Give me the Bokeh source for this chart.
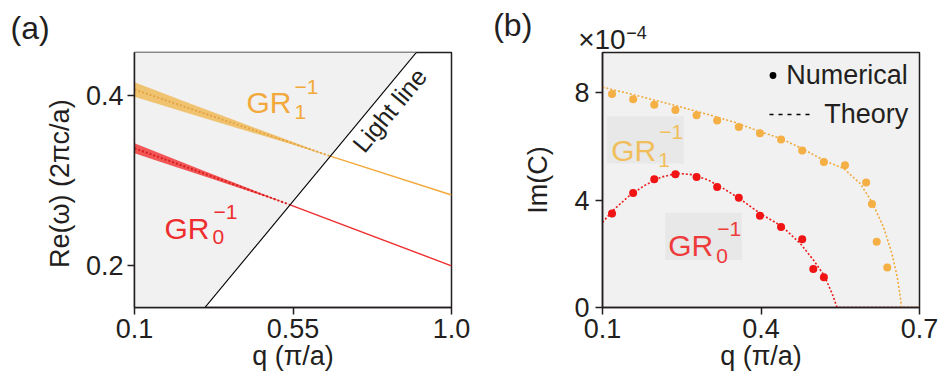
from bokeh.plotting import figure
from bokeh.layouts import row
from bokeh.models import Label, Legend, LegendItem, BoxAnnotation, FixedTicker, Range1d, Title
from bokeh.embed import file_html
from bokeh.resources import INLINE
import numpy as np

FONT = "Liberation Sans"
INK = "#231F20"
ORANGE = "#F2A93B"
ORANGE_BAND = "#F0BE62"
ORANGE_DOT = "#E6A444"
RED = "#EE2E2E"
RED_BAND = "#F24646"
RED_DOT = "#D91C1C"
GRAY = "#F1F1F1"
BOXGRAY = "#E8E8E8"

# ---------------- panel (a) data ----------------
light_q = [0.3, 0.9]
light_re = [0.15, 0.45]

gr1_q = [0.10, 0.25, 0.40, 0.55, 0.656]
gr1_re = [0.4065, 0.385, 0.364, 0.343, 0.328]
gr1_hw = [0.0085, 0.0062, 0.0039, 0.0016, 0.0]
gr1_q_out = [0.656, 1.0]
gr1_re_out = [0.328, 0.2824]

gr0_q = [0.10, 0.20, 0.30, 0.40, 0.538]
gr0_re = [0.3373, 0.3223, 0.3072, 0.2922, 0.2714]
gr0_hw = [0.0059, 0.0046, 0.0032, 0.0019, 0.0]
gr0_q_out = [0.538, 1.0]
gr0_re_out = [0.2714, 0.199]

a_xticks = [0.1, 0.55, 1.0]
a_xlabels = ["0.1", "0.55", "1.0"]
a_yticks = [0.2, 0.4]
a_ylabels = ["0.2", "0.4"]

# ---------------- panel (b) data ----------------
gr1_num_q = [0.118, 0.158, 0.198, 0.238, 0.278, 0.317, 0.358, 0.398, 0.438,
             0.478, 0.519, 0.559, 0.599, 0.610, 0.619, 0.639]
gr1_num = [7.95, 7.76, 7.55, 7.36, 7.16, 6.97, 6.72, 6.49, 6.26,
           5.85, 5.42, 5.30, 4.66, 3.86, 2.45, 1.49]
gr0_num_q = [0.118, 0.158, 0.198, 0.238, 0.278, 0.317, 0.358, 0.398, 0.438,
             0.478, 0.499, 0.519]
gr0_num = [3.50, 4.27, 4.78, 4.96, 4.86, 4.49, 4.09, 3.42, 3.00, 2.54, 1.43, 1.13]

gr1_th_q = [0.10, 0.15, 0.20, 0.25, 0.30, 0.35, 0.40, 0.437, 0.478, 0.519, 0.557,
            0.588, 0.61, 0.632, 0.648, 0.658, 0.664, 0.666, 0.70]
gr1_th = [8.21, 7.97, 7.72, 7.46, 7.19, 6.90, 6.54, 6.30, 5.92, 5.48, 5.17,
          4.61, 3.93, 2.99, 2.00, 1.12, 0.35, 0.0, 0.0]
gr0_th_q = [0.10, 0.12, 0.15, 0.18, 0.21, 0.24, 0.27, 0.30, 0.33, 0.36, 0.40,
            0.44, 0.475, 0.50, 0.52, 0.535, 0.544, 0.70]
gr0_th = [3.17, 3.62, 4.15, 4.55, 4.85, 5.00, 4.95, 4.75, 4.42, 4.05, 3.48,
          3.02, 2.37, 1.75, 1.18, 0.50, 0.0, 0.0]

b_xticks = [0.1, 0.4, 0.7]
b_xlabels = ["0.1", "0.4", "0.7"]
b_yticks = [0, 4, 8]
b_ylabels = ["0", "4", "8"]


def style_axes(p, xt, xl, yt, yl, ylab_standoff):
    p.xgrid.visible = False
    p.ygrid.visible = False
    p.outline_line_color = INK
    p.outline_line_width = 1.5
    for ax in (p.xaxis[0], p.yaxis[0]):
        ax.axis_line_color = INK
        ax.axis_line_width = 1.5
        ax.major_tick_line_color = INK
        ax.major_tick_line_width = 1.5
        ax.major_tick_out = 7
        ax.major_tick_in = 0
        ax.minor_tick_line_color = None
        ax.major_label_text_font = FONT
        ax.major_label_text_font_size = "27px"
        ax.major_label_text_color = INK
        ax.axis_label_text_font = FONT
        ax.axis_label_text_font_size = "27px"
        ax.axis_label_text_font_style = "normal"
        ax.axis_label_text_color = INK
    p.xaxis.ticker = FixedTicker(ticks=xt)
    p.xaxis.major_label_overrides = {t: s for t, s in zip(xt, xl)}
    p.yaxis.ticker = FixedTicker(ticks=yt)
    p.yaxis.major_label_overrides = {t: s for t, s in zip(yt, yl)}
    p.xaxis.major_label_standoff = 4
    p.xaxis.axis_label_standoff = 0
    p.yaxis.major_label_standoff = 4
    p.yaxis.axis_label_standoff = ylab_standoff


def add_label(p, fx, fy, px, py, text, size, color=INK, align="left",
              baseline="alphabetic", angle=0.0):
    p.add_layout(Label(x=fx(px), y=fy(py), text=text, text_font=FONT,
                       text_font_size=f"{size}px", text_color=color,
                       text_align=align, text_baseline=baseline, angle=angle))


def add_title(p, text, offset, standoff, size):
    p.add_layout(Title(text=text, align="left", offset=offset, standoff=standoff,
                       text_font=FONT, text_font_size=f"{size}px",
                       text_font_style="normal", text_color=INK), "above")


# ================= panel (a) =================
pa = figure(width=470, height=385, output_backend="svg", toolbar_location=None,
            x_range=Range1d(0.1, 1.0), y_range=Range1d(0.15, 0.45),
            min_border_left=134, min_border_right=19, min_border_top=52,
            min_border_bottom=78, background_fill_color="white",
            border_fill_color="white")
style_axes(pa, a_xticks, a_xlabels, a_yticks, a_ylabels, 8)
pa.xaxis.axis_label = "q (π/a)"
pa.yaxis.axis_label = "Re(ω)  (2πc/a)"
add_title(pa, "(a)", -124, 13, 32)

# shaded region left of the light line
xr0, yr0, yr1 = 0.0, 0.10, 0.50
slope = (light_re[1] - light_re[0]) / (light_q[1] - light_q[0])
pa.patch(x=[xr0, light_q[0] + (yr0 - light_re[0]) / slope,
            light_q[1] + (yr1 - light_re[1]) / slope, xr0],
         y=[yr0, yr0, yr1, yr1], fill_color=GRAY, line_color=None)

for q, re, hw, qo, reo, band, dot, col in [
        (gr1_q, gr1_re, gr1_hw, gr1_q_out, gr1_re_out, ORANGE_BAND, ORANGE_DOT, ORANGE),
        (gr0_q, gr0_re, gr0_hw, gr0_q_out, gr0_re_out, RED_BAND, RED_DOT, RED)]:
    q = np.array(q); re = np.array(re); hw = np.array(hw)
    pa.varea(x=q, y1=re - hw, y2=re + hw, fill_color=band, fill_alpha=0.9)
    pa.line(q, re, line_color=dot, line_width=2, line_dash="2 2")
    pa.line(qo, reo, line_color=col, line_width=1.4)

ext = np.array([light_q[0] - 0.1, light_q[1] + 0.1])
pa.line(ext, light_re[0] + slope * (ext - light_q[0]), line_color="black", line_width=1.1)

fxa = lambda px: 0.1 + (px - 134.0) * 0.9 / 317.0
fya = lambda py: 0.4 - (py - 95.0) * 0.2 / 170.0

add_label(pa, fxa, fya, 389, 110, "Light line", 25, align="center",
          baseline="middle", angle=np.arctan2(255, 210.7))
add_label(pa, fxa, fya, 246, 102, "GR", 30, color=ORANGE)
add_label(pa, fxa, fya, 294, 112, "1", 21, color=ORANGE)
add_label(pa, fxa, fya, 294, 87, "−1", 21, color=ORANGE)
add_label(pa, fxa, fya, 164, 228, "GR", 30, color=RED)
add_label(pa, fxa, fya, 212, 237, "0", 21, color=RED)
add_label(pa, fxa, fya, 213, 212, "−1", 21, color=RED)

# ================= panel (b) =================
pb = figure(width=475, height=385, output_backend="svg", toolbar_location=None,
            x_range=Range1d(0.1, 0.7), y_range=Range1d(0, 9.5),
            min_border_left=132, min_border_right=26, min_border_top=52,
            min_border_bottom=78, background_fill_color=GRAY,
            border_fill_color="white")
style_axes(pb, b_xticks, b_xlabels, b_yticks, b_ylabels, 18)
pb.yaxis.major_label_standoff = 6
pb.xaxis.axis_label = "q (π/a)"
pb.yaxis.axis_label = "Im(C)"
add_title(pb, "×10", -24.3, -4, 28)
add_title(pb, "(b)", -109.3, -38, 32)
add_title(pb, "−4", 23.7, -31, 18)

fxb = lambda px: 0.1 + (px - 602.3) * 0.3 / 158.3
fyb = lambda py: (306.7 - py) * 4.0 / 107.0

pb.add_layout(BoxAnnotation(left=fxb(606.7), right=fxb(683.3), top=fyb(116), bottom=fyb(163.3),
                            fill_color=BOXGRAY, fill_alpha=1.0, line_color=None, level="underlay"))
pb.add_layout(BoxAnnotation(left=fxb(665), right=fxb(741.7), top=fyb(212.3), bottom=fyb(259.3),
                            fill_color=BOXGRAY, fill_alpha=1.0, line_color=None, level="underlay"))

pb.line(gr1_th_q, gr1_th, line_color=ORANGE, line_width=1.6, line_dash="2 2")
pb.line(gr0_th_q, gr0_th, line_color="#EE1B1B", line_width=1.6, line_dash="2 2")
pb.scatter(gr1_num_q, gr1_num, size=8, fill_color="#F4AF45", line_color=None)
pb.scatter(gr0_num_q, gr0_num, size=8, fill_color="#F01414", line_color=None)

# legend-only renderers (nothing drawn in the plot)
r_num = pb.scatter(x=[np.nan], y=[np.nan], size=7, fill_color="black", line_color=None)
r_th = pb.line(x=[np.nan, np.nan], y=[np.nan, np.nan], line_color="black",
               line_width=1.3, line_dash="4 5")

leg1 = Legend(items=[LegendItem(label="Numerical", renderers=[r_num])],
              location=(162.2, 215.7), glyph_width=17, glyph_height=32, label_height=32,
              label_standoff=5, padding=0, margin=0, spacing=0,
              background_fill_alpha=0, border_line_color=None,
              label_text_font=FONT, label_text_font_size="27px", label_text_color=INK)
leg2 = Legend(items=[LegendItem(label="Theory", renderers=[r_th])],
              location=(167.2, 176.7), glyph_width=41, glyph_height=32, label_height=32,
              label_standoff=14, padding=0, margin=0, spacing=0,
              background_fill_alpha=0, border_line_color=None,
              label_text_font=FONT, label_text_font_size="27px", label_text_color=INK)
pb.add_layout(leg1)
pb.add_layout(leg2)

add_label(pb, fxb, fyb, 611, 150, "GR", 30, color="#F0BF5C")
add_label(pb, fxb, fyb, 658, 160, "1", 21, color="#F0BF5C")
add_label(pb, fxb, fyb, 659, 132, "−1", 21, color="#F0BF5C")
add_label(pb, fxb, fyb, 668, 245, "GR", 30, color="#EE3B3B")
add_label(pb, fxb, fyb, 716, 255, "0", 21, color="#EE3B3B")
add_label(pb, fxb, fyb, 717, 228, "−1", 21, color="#EE3B3B")

layout = row(pa, pb, spacing=0)
open("out.html", "w").write(file_html(layout, INLINE))
